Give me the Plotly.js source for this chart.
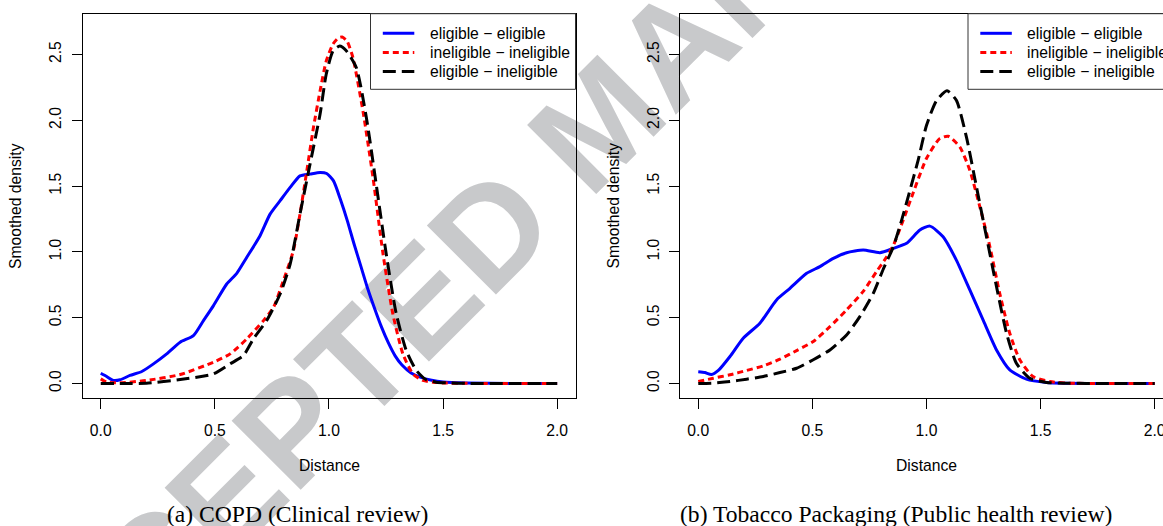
<!DOCTYPE html>
<html>
<head>
<meta charset="utf-8">
<script src="https://cdn.plot.ly/plotly-3.0.1.min.js"></script>
<style>html,body{margin:0;padding:0;background:#fff;}#chart{width:1163px;height:526px;}</style>
</head>
<body>
<div id="chart"></div>
<script>
// ---------- data ----------
const seriesNames = ["eligible \u2212 eligible", "ineligible \u2212 ineligible", "eligible \u2212 ineligible"];
const panelTitles = ["(a) COPD (Clinical review)", "(b) Tobacco Packaging (Public health review)"];
const xTitle = "Distance";
const yTitle = "Smoothed density";
const watermarkText = "ACCEPTED MANUSCRIPT";
const tickValsX = [0, 0.5, 1, 1.5, 2];
const tickValsY = [0, 0.5, 1, 1.5, 2, 2.5];

// Panel (a) COPD
const aEEx = [0, 0.026, 0.055, 0.085, 0.128, 0.18, 0.231, 0.289, 0.348, 0.406, 0.45, 0.494, 0.552, 0.596, 0.64, 0.698, 0.742, 0.786, 0.83, 0.873, 0.917, 0.961, 0.99, 1.02, 1.05, 1.08, 1.11, 1.14, 1.17, 1.2, 1.23, 1.26, 1.29, 1.32, 1.36, 1.4, 1.45, 1.5, 1.6, 1.8, 2.0];
const aEEy = [0.078, 0.053, 0.023, 0.028, 0.061, 0.091, 0.149, 0.225, 0.314, 0.364, 0.478, 0.592, 0.756, 0.837, 0.959, 1.123, 1.287, 1.389, 1.49, 1.578, 1.591, 1.603, 1.596, 1.54, 1.40, 1.24, 1.06, 0.89, 0.72, 0.57, 0.43, 0.31, 0.21, 0.14, 0.08, 0.048, 0.024, 0.011, 0.003, 0, 0];
const aIIx = [0, 0.026, 0.085, 0.2, 0.348, 0.494, 0.567, 0.64, 0.713, 0.757, 0.8, 0.844, 0.873, 0.903, 0.932, 0.961, 0.988, 1.018, 1.04, 1.058, 1.08, 1.105, 1.149, 1.193, 1.237, 1.28, 1.324, 1.368, 1.412, 1.456, 1.5, 1.6, 1.8, 2.0];
const aIIy = [0.035, 0.01, 0.005, 0.023, 0.068, 0.162, 0.225, 0.339, 0.478, 0.579, 0.781, 1.009, 1.287, 1.616, 1.945, 2.223, 2.45, 2.58, 2.625, 2.633, 2.6, 2.476, 2.07, 1.565, 0.984, 0.529, 0.225, 0.073, 0.023, 0.01, 0.004, 0.001, 0, 0];
const aEIx = [0, 0.128, 0.2, 0.348, 0.494, 0.567, 0.625, 0.669, 0.727, 0.786, 0.83, 0.873, 0.917, 0.961, 0.988, 1.018, 1.047, 1.075, 1.12, 1.164, 1.207, 1.251, 1.295, 1.339, 1.383, 1.427, 1.47, 1.52, 1.6, 1.8, 2.0];
const aEIy = [0, 0, 0.002, 0.03, 0.073, 0.149, 0.212, 0.339, 0.478, 0.68, 0.908, 1.287, 1.667, 2.046, 2.35, 2.527, 2.564, 2.53, 2.40, 2.02, 1.515, 0.984, 0.529, 0.25, 0.099, 0.028, 0.01, 0.005, 0.001, 0, 0];

// Panel (b) Tobacco Packaging
const bEEx = [0, 0.029, 0.058, 0.088, 0.139, 0.197, 0.27, 0.343, 0.402, 0.475, 0.533, 0.592, 0.65, 0.723, 0.796, 0.855, 0.913, 0.971, 1.015, 1.073, 1.131, 1.19, 1.248, 1.307, 1.365, 1.438, 1.526, 1.6, 1.8, 2.0];
const bEEy = [0.089, 0.083, 0.068, 0.099, 0.205, 0.344, 0.458, 0.635, 0.723, 0.837, 0.888, 0.951, 0.994, 1.014, 0.994, 1.027, 1.065, 1.166, 1.196, 1.115, 0.938, 0.711, 0.483, 0.255, 0.104, 0.033, 0.008, 0.002, 0, 0];
const bIIx = [0, 0.066, 0.139, 0.212, 0.285, 0.358, 0.431, 0.504, 0.577, 0.65, 0.723, 0.781, 0.825, 0.855, 0.898, 0.942, 1.0, 1.058, 1.095, 1.146, 1.19, 1.234, 1.278, 1.321, 1.365, 1.409, 1.467, 1.54, 1.613, 1.8, 2.0];
const bIIy = [0.015, 0.04, 0.066, 0.099, 0.134, 0.185, 0.25, 0.319, 0.432, 0.559, 0.70, 0.85, 0.96, 1.05, 1.24, 1.45, 1.71, 1.861, 1.879, 1.798, 1.621, 1.343, 1.039, 0.685, 0.382, 0.18, 0.053, 0.015, 0.003, 0, 0];
const bEIx = [0, 0.066, 0.139, 0.212, 0.285, 0.358, 0.431, 0.504, 0.577, 0.65, 0.708, 0.767, 0.811, 0.855, 0.891, 0.928, 0.964, 1.0, 1.044, 1.09, 1.131, 1.175, 1.219, 1.263, 1.307, 1.351, 1.394, 1.453, 1.526, 1.6, 1.8, 2.0];
const bEIy = [0, 0.003, 0.015, 0.033, 0.053, 0.083, 0.116, 0.18, 0.255, 0.369, 0.508, 0.685, 0.87, 1.04, 1.24, 1.47, 1.70, 1.96, 2.15, 2.225, 2.152, 1.874, 1.495, 1.115, 0.736, 0.382, 0.154, 0.04, 0.008, 0.002, 0, 0];

// ---------- styling ----------
const colors = ["#0000ff", "#ff0000", "#000000"];
const dashes = ["solid", "6px,4px", "13px,6px"];
const LW = 3;
const W = 1163, H = 526;
const FONT = "Liberation Sans, Arial, Helvetica, sans-serif";
const SERIF = "Liberation Serif, Times New Roman, serif";
const FS = 15.7;
const px = p => p / W;
const py = p => 1 - p / H;

const panels = [
  {xs: [aEEx, aIIx, aEIx], ys: [aEEy, aIIy, aEIy], left: 82.5, right: 575.5, caption: 297},
  {xs: [bEEx, bIIx, bEIx], ys: [bEEy, bIIy, bEIy], left: 680, right: 1173, caption: 896}
];
const plotTop = 14, plotBottom = 397.7;
const xUnit = 228.2; // px per unit on x

const traces = [];
const layout = {
  width: W, height: H,
  margin: {l: 0, r: 0, t: 0, b: 0, pad: 0, autoexpand: false},
  paper_bgcolor: "#ffffff",
  plot_bgcolor: "rgba(0,0,0,0)",
  showlegend: false,
  font: {family: FONT, size: FS, color: "#000"},
  shapes: [], annotations: []
};

panels.forEach((p, i) => {
  const sfx = i === 0 ? "" : "2";
  for (let k = 0; k < 3; k++) {
    traces.push({
      x: p.xs[k], y: p.ys[k], type: "scatter", mode: "lines",
      name: seriesNames[k], xaxis: "x" + sfx, yaxis: "y" + sfx,
      line: {color: colors[k], width: LW, dash: dashes[k], shape: "spline", smoothing: 0.6},
      hoverinfo: "x+y+name"
    });
  }
  const domRight = Math.min(1, p.right / W);
  const visRightPx = domRight * W;
  const xr = [-0.08, -0.08 + (visRightPx - p.left) / xUnit];
  layout["xaxis" + sfx] = {
    domain: [p.left / W, domRight], range: xr, anchor: "y" + sfx,
    tickmode: "array", tickvals: tickValsX, tickformat: ".1f",
    ticks: "outside", ticklen: 10, tickwidth: 1, tickcolor: "#000",
    showline: true, linecolor: "#000", linewidth: 1, mirror: true,
    showgrid: false, zeroline: false, ticklabelstandoff: 8,
    ticklabeloverflow: "allow",
    tickfont: {family: FONT, size: FS, color: "#000"},
    automargin: false
  };
  layout["yaxis" + sfx] = {
    domain: [py(plotBottom), py(plotTop)], range: [-0.108, 2.808], anchor: "x" + sfx,
    tickmode: "array", tickvals: tickValsY, tickformat: ".1f", tickangle: -90,
    ticks: "outside", ticklen: 10, tickwidth: 1, tickcolor: "#000",
    showline: true, linecolor: "#000", linewidth: 1, mirror: i === 0,
    showgrid: false, zeroline: false, ticklabelstandoff: 4,
    ticklabeloverflow: "allow",
    tickfont: {family: FONT, size: FS, color: "#000"},
    automargin: false
  };

  // axis titles (placed like R's mtext lines)
  layout.annotations.push({xref: "paper", yref: "paper", x: px((p.left + p.right) / 2), y: py(465),
    xanchor: "center", yanchor: "middle", showarrow: false, text: xTitle,
    font: {family: FONT, size: FS, color: "#000"}});
  layout.annotations.push({xref: "paper", yref: "paper", x: px(p.left - 66.3), y: py((plotTop + plotBottom) / 2),
    xanchor: "center", yanchor: "middle", showarrow: false, text: yTitle, textangle: -90,
    font: {family: FONT, size: FS, color: "#000"}});

  // legend box (drawn like R's legend)
  const lgR = p.right, lgL = p.right - 205, lgT = 13.7, lgB = 89.3;
  layout.shapes.push({type: "rect", xref: "paper", yref: "paper", layer: "above",
    x0: px(lgL), x1: px(lgR), y0: py(lgB), y1: py(lgT),
    line: {color: "#333", width: 1}, fillcolor: "#ffffff"});
  const rows = [33.3, 52.5, 71.4];
  for (let k = 0; k < 3; k++) {
    layout.shapes.push({type: "line", xref: "paper", yref: "paper", layer: "above",
      x0: px(lgL + 12.3), x1: px(lgL + 43.8), y0: py(rows[k]), y1: py(rows[k]),
      line: {color: colors[k], width: LW, dash: dashes[k]}});
    layout.annotations.push({xref: "paper", yref: "paper", x: px(lgL + 57), y: py(rows[k]),
      xanchor: "left", yanchor: "middle", showarrow: false, text: seriesNames[k],
      font: {family: FONT, size: FS, color: "#000"}});
  }
  // sub-figure caption
  layout.annotations.push({xref: "paper", yref: "paper", x: px(p.caption), y: py(514),
    xanchor: "center", yanchor: "middle", showarrow: false, text: panelTitles[i],
    font: {family: SERIF, size: 23.6, color: "#000"}});
});

// watermark, drawn beneath the plots
const wmC = [590, 112], wmD = 120;
layout.shapes.unshift({type: "line", xref: "paper", yref: "paper", layer: "below",
  x0: px(wmC[0] - wmD), y0: py(wmC[1] + wmD), x1: px(wmC[0] + wmD), y1: py(wmC[1] - wmD),
  line: {color: "rgba(0,0,0,0)", width: 0},
  label: {text: watermarkText, textangle: -45, textposition: "middle", xanchor: "center", yanchor: "middle",
    font: {family: FONT, size: 142, color: "rgb(200,201,203)", weight: "bold"}}});

Plotly.newPlot("chart", traces, layout, {displayModeBar: false, staticPlot: true});
</script>
</body>
</html>
